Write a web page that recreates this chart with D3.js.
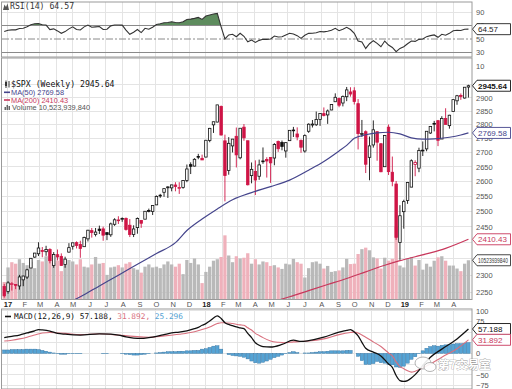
<!DOCTYPE html>
<html>
<head>
<meta charset="utf-8">
<title>$SPX Weekly with RSI and MACD</title>
<script src="https://d3js.org/d3.v7.min.js"></script>
<style>
    body { margin: 0; background: white; }
    svg { display: block; font-family: Arial, "Liberation Sans", sans-serif; }
    .mono { font-family: "DejaVu Sans Mono", "Liberation Mono", monospace; }
    .grid line { stroke: #e4e4e4; stroke-width: 1; shape-rendering: crispEdges; }
    .axis text { font-size: 7.5px; fill: #555; }
</style>
</head>
<body>
<div id="chart"></div>

<script>

// weekly bars, first week starts Mon Dec 26 2016, last week starts Mon Apr 29 2019
var firstMonday = new Date(Date.UTC(2016, 11, 26));
var lastMonday = new Date(Date.UTC(2019, 3, 29));
var priorClose = 2263.79;   // close of the week before the first bar

var open = [2266.2, 2251.6, 2273.6, 2272.1, 2267.8, 2286.0, 2294.3, 2321.7, 2354.9, 2365.2, 2375.2, 2371.6, 2378.2, 2329.1,
    2362.3, 2357.2, 2332.6, 2370.3, 2388.5, 2399.9, 2394.0, 2387.2, 2411.7, 2437.8, 2425.9, 2442.6, 2443.3, 2431.4,
    2424.5, 2458.0, 2472.0, 2475.9, 2477.1, 2455.0, 2425.5, 2447.4, 2470.4, 2474.5, 2502.5, 2499.4, 2521.2, 2551.4,
    2563.0, 2578.1, 2577.8, 2587.5, 2576.5, 2579.5, 2602.7, 2657.2, 2652.2, 2685.9, 2679.1, 2683.7, 2742.7, 2799.0,
    2809.2, 2867.2, 2741.1, 2636.8, 2723.0, 2757.4, 2681.1, 2790.5, 2741.4, 2619.4, 2633.5, 2617.2, 2670.1, 2675.4,
    2682.5, 2680.3, 2738.5, 2735.4, 2705.1, 2741.7, 2780.2, 2765.8, 2742.9, 2705.0, 2775.6, 2798.4, 2799.2, 2819.0,
    2840.3, 2835.5, 2853.9, 2884.7, 2897.0, 2880.0, 2903.8, 2921.8, 2926.3, 2877.5, 2763.8, 2773.9, 2682.7, 2726.4,
    2773.9, 2730.7, 2650.0, 2790.5, 2630.9, 2590.8, 2400.6, 2498.9, 2535.6, 2580.3, 2657.9, 2644.9, 2706.5, 2712.4,
    2769.3, 2804.4, 2814.4, 2747.6, 2822.6, 2796.0, 2848.6, 2888.3, 2908.3, 2898.8, 2940.6];
var high = [2273.8, 2282.1, 2279.3, 2272.1, 2301.0, 2298.3, 2319.2, 2351.3, 2367.8, 2401.0, 2386.1, 2390.0, 2382.4, 2370.4,
    2378.4, 2366.4, 2356.2, 2398.2, 2399.3, 2403.9, 2405.8, 2418.7, 2440.2, 2446.2, 2446.2, 2453.8, 2450.4, 2432.0,
    2463.5, 2477.6, 2484.0, 2480.4, 2480.0, 2474.9, 2454.8, 2480.0, 2472.0, 2500.2, 2508.9, 2519.4, 2552.5, 2557.7,
    2575.4, 2583.0, 2588.4, 2597.0, 2597.0, 2604.2, 2657.7, 2665.2, 2679.6, 2695.0, 2692.1, 2743.5, 2787.9, 2810.3,
    2872.9, 2870.6, 2763.4, 2754.4, 2747.8, 2789.2, 2786.6, 2801.9, 2741.4, 2664.7, 2672.1, 2674.7, 2717.5, 2682.9,
    2682.5, 2732.9, 2742.2, 2742.2, 2736.9, 2779.9, 2791.5, 2789.8, 2746.0, 2764.4, 2804.5, 2816.8, 2848.0, 2840.4,
    2863.4, 2855.6, 2876.2, 2916.5, 2900.2, 2908.3, 2940.9, 2939.9, 2939.9, 2894.8, 2816.9, 2778.9, 2756.6, 2815.2,
    2776.0, 2733.2, 2760.9, 2800.2, 2685.4, 2601.1, 2520.3, 2538.1, 2597.8, 2675.5, 2672.4, 2716.7, 2739.0, 2775.7,
    2794.2, 2813.5, 2816.9, 2830.7, 2860.3, 2836.0, 2893.4, 2910.5, 2916.1, 2939.9, 2949.5];
var low = [2233.6, 2245.1, 2254.3, 2258.4, 2257.0, 2267.2, 2288.5, 2321.4, 2352.9, 2358.2, 2354.5, 2358.9, 2335.8, 2322.3,
    2344.7, 2328.9, 2322.3, 2369.0, 2378.0, 2381.7, 2352.7, 2386.8, 2403.6, 2415.7, 2419.4, 2427.0, 2405.7, 2407.7,
    2418.0, 2453.0, 2459.0, 2466.0, 2437.8, 2417.4, 2417.4, 2428.0, 2446.6, 2474.5, 2496.7, 2488.0, 2520.4, 2544.4,
    2547.9, 2544.0, 2566.2, 2566.3, 2557.5, 2575.0, 2597.0, 2624.8, 2651.0, 2676.0, 2673.6, 2682.4, 2736.1, 2769.6,
    2808.1, 2760.0, 2532.7, 2622.5, 2699.8, 2647.5, 2675.8, 2741.4, 2585.9, 2593.1, 2553.8, 2605.0, 2660.0, 2612.7,
    2594.6, 2655.0, 2701.9, 2707.4, 2681.5, 2741.0, 2755.0, 2743.0, 2698.7, 2699.0, 2770.0, 2789.2, 2795.0, 2795.1,
    2830.0, 2802.5, 2853.0, 2884.0, 2864.1, 2867.3, 2886.9, 2904.0, 2874.3, 2710.5, 2755.0, 2628.2, 2603.5, 2717.0,
    2670.8, 2631.1, 2650.0, 2621.5, 2583.2, 2408.6, 2346.6, 2444.0, 2524.6, 2580.3, 2617.3, 2631.1, 2687.3, 2704.1,
    2766.1, 2775.1, 2722.3, 2747.6, 2800.7, 2785.0, 2848.6, 2873.3, 2891.9, 2896.5, 2900.5];
var close = [2238.8, 2277.0, 2274.6, 2271.3, 2294.7, 2297.4, 2316.1, 2351.2, 2367.3, 2383.1, 2372.6, 2378.3, 2344.0, 2362.7,
    2355.5, 2329.0, 2348.7, 2384.2, 2399.3, 2390.9, 2381.7, 2415.8, 2439.1, 2431.8, 2433.2, 2438.3, 2423.4, 2425.2,
    2459.3, 2472.5, 2472.1, 2476.8, 2441.3, 2425.6, 2443.1, 2476.6, 2461.4, 2500.2, 2502.2, 2519.4, 2549.3, 2553.2,
    2575.2, 2581.1, 2587.8, 2582.3, 2578.9, 2602.4, 2642.2, 2651.5, 2675.8, 2683.3, 2673.6, 2743.2, 2786.2, 2810.3,
    2872.9, 2762.1, 2619.6, 2732.2, 2747.3, 2691.3, 2786.6, 2752.0, 2588.3, 2640.9, 2604.5, 2656.3, 2670.1, 2669.9,
    2663.4, 2727.7, 2713.0, 2721.3, 2734.6, 2779.0, 2779.7, 2754.9, 2718.4, 2759.8, 2801.3, 2801.8, 2818.8, 2840.4,
    2833.3, 2850.1, 2874.7, 2901.5, 2871.7, 2905.0, 2929.7, 2914.0, 2885.6, 2767.1, 2767.8, 2658.7, 2723.1, 2781.0,
    2736.3, 2632.6, 2760.2, 2633.1, 2600.0, 2416.6, 2485.7, 2531.9, 2596.3, 2670.7, 2664.8, 2706.5, 2707.9, 2775.6,
    2792.7, 2803.7, 2743.1, 2822.5, 2800.7, 2834.4, 2892.7, 2907.4, 2905.0, 2939.9, 2945.64];

// weekly volume, billions of shares
var volume = [4.7, 8.6, 10.0, 9.6, 10.8, 9.8, 9.2, 10.1, 8.4, 10.6, 10.2, 11.6, 10.8, 9.8,
    10.4, 7.6, 9.4, 10.6, 10.2, 9.4, 10.8, 8.8, 8.6, 9.4, 11.4, 9.6, 9.8, 6.6,
    8.6, 8.8, 9.2, 8.6, 9.6, 10.0, 8.4, 8.0, 7.2, 8.8, 9.4, 8.6, 8.8, 8.4,
    9.4, 10.2, 9.4, 8.8, 9.6, 6.8, 10.6, 9.8, 11.0, 9.4, 4.4, 7.4, 8.8, 10.4,
    10.8, 11.4, 17.2, 11.8, 10.0, 11.6, 11.0, 11.2, 12.4, 9.6, 10.8, 9.4, 10.2, 10.0,
    9.0, 9.2, 8.6, 8.2, 9.6, 9.4, 10.9, 10.0, 9.6, 5.9, 8.4, 10.0, 10.2, 9.6,
    8.3, 9.0, 7.4, 7.6, 7.8, 8.6, 10.9, 9.5, 9.6, 12.2, 13.5, 13.9, 13.2, 11.3,
    11.0, 8.3, 11.2, 10.4, 10.9, 19.5, 9.1, 8.6, 10.9, 11.4, 9.1, 10.6, 8.0, 9.6,
    8.8, 10.4, 11.3, 11.6, 10.4, 9.1, 9.1, 8.3, 7.6, 9.6, 10.52];

// RSI(14), one value per week
var rsi = [61, 63, 63.5, 63.5, 65.5, 66, 68, 71, 72.5, 73, 71, 70.7, 64, 65,
    62, 58.4, 61, 65, 68, 64, 63.3, 68, 70.7, 67.5, 68, 68.5, 64, 64.5,
    69.5, 70.7, 70.7, 70.5, 63.3, 57, 60, 64, 59.5, 65.8, 64.4, 67.5, 71.5, 72.5,
    74, 74.5, 75.6, 74.5, 74, 75.6, 79, 79.5, 80.6, 82, 79, 84, 85.5, 87,
    88, 68, 50, 56, 57, 53.4, 58.4, 54, 46, 48.5, 45, 48, 49.5, 49.5,
    50, 54.4, 53, 53.4, 56, 58.4, 57.5, 55, 51, 55.5, 58.4, 58.5, 59.3, 61,
    60.5, 61.5, 63, 65.8, 62.3, 64.5, 67.3, 64, 58.4, 47, 45.5, 36, 43, 47.5,
    43.6, 38.6, 47, 41, 37.5, 31.2, 36, 38.6, 43, 47, 46.5, 49.5, 50, 53.5,
    55, 56, 52.5, 57, 55.5, 58.4, 62.3, 63, 62.5, 64.4, 64.57];

// MACD histogram, one value per week
var macdHist = [8, 8, 9, 9, 9, 9, 10, 10, 10, 9, 7, 5, 3, 1,
    -1, -2, -2, -1, -1, -1, -1, 0, 0, 0, 0, 0, -1, -1,
    0, 0, 0, -1, -2, -3, -4, -4, -3, -2, -1, 0, 1, 2,
    3, 4, 4, 4, 5, 5, 6, 6, 7, 7, 10, 11, 14, 17,
    18, 10, 0, -3, -5, -6, -7, -9, -13, -18, -22, -23, -21, -18,
    -14, -10, -7, -4, -1, 2, 4, 2, 0, 1, 1, 2, 3, 4,
    4, 5, 6, 6, 6, 6, 7, 7, 0, -7, -17, -26, -26, -24,
    -19, -22, -23, -26, -27, -32, -33, -30, -23, -14, -8, -1, 6, 12,
    16, 18, 17, 19, 20, 20, 22, 23, 23, 24, 25.296];

// smooth lines read at selected weeks (week index from the first bar)
var ma50Week = [17, 20, 25, 30, 35, 40, 45, 48, 52, 56, 60, 65, 70, 75, 80, 84, 88, 90, 92, 95, 98, 101, 104, 107, 110, 113, 117, 120, 122];
var ma50Value = [2220, 2236, 2268, 2300, 2333, 2366, 2400, 2438, 2475, 2508, 2538, 2562, 2582, 2604, 2638, 2668, 2705, 2725, 2750, 2763, 2770, 2772, 2766, 2752, 2747, 2748, 2754, 2762, 2769.58];

var ma200Week = [68, 75, 80, 85, 90, 95, 100, 104, 108, 112, 116, 122];
var ma200Value = [2214, 2236, 2254, 2272, 2290, 2310, 2330, 2344, 2356, 2368, 2382, 2410.43];

var macdWeek = [0, 2, 4, 6, 8, 9, 10, 12, 14, 16, 20, 25, 28, 30, 32, 34, 36, 38, 40, 42,
    44, 46, 48, 50, 51, 52, 53, 54, 55, 56, 57, 58, 59, 60, 61, 62, 63, 64, 65, 66,
    67, 68, 70, 73, 76, 78, 80, 84, 88, 90, 91, 92, 93, 94, 95, 97, 99, 101, 102, 103,
    104, 105, 106, 107, 108, 109, 110, 112, 115, 119, 122];
var macdValue = [37, 40, 43, 48, 53, 56, 55, 52, 47, 45, 43, 46, 45, 43, 39, 36, 35, 37, 40, 44,
    48, 50, 53, 58, 61, 66, 70, 76, 83, 88, 82, 72, 68, 65, 62, 60, 58, 47, 37, 25,
    19, 16, 15, 21, 31, 28, 30, 38, 50, 54, 56, 50, 41, 26, 12, 3, -6, -25, -33, -52,
    -64, -66, -64, -58, -50, -40, -28, -9, 10, 34, 57.188];

var signalWeek = [0, 2, 4, 6, 8, 10, 12, 14, 16, 20, 25, 30, 34, 38, 42, 46, 50, 52, 54, 56,
    57, 58, 60, 62, 63, 64, 65, 66, 67, 68, 70, 72, 74, 76, 78, 80, 84, 88, 91, 92,
    93, 94, 95, 97, 99, 101, 102, 103, 104, 105, 106, 107, 108, 110, 112, 115, 119, 122];
var signalValue = [29, 31, 34, 38, 43, 48, 49, 48, 47, 44, 46, 43, 40, 38, 41, 45, 51, 56, 62, 70,
    72, 72, 70, 67, 66, 60, 55, 47, 42, 37, 29, 26, 25, 27, 28, 29, 34, 44, 49, 50,
    48, 43, 38, 27, 16, 1, -6, -20, -31, -36, -41, -44, -42, -34, -25, -9, 11, 31.892];

// grid levels, and the axis labels that are not hidden behind the value tags
var priceTicks = [2250, 2300, 2350, 2400, 2450, 2500, 2550, 2600, 2650, 2700, 2750, 2800, 2850, 2900, 2950];
var priceLabels = [2250, 2300, 2450, 2500, 2550, 2600, 2650, 2700, 2750, 2800, 2850, 2900];
var rsiLabels = [10, 30, 50, 70, 90];
var macdTicks = [-75, -50, -25, 0, 25, 50, 75, 100];
var macdLabels = [-75, -50, 0, 75, 100];
var monthLetters = ["J", "F", "M", "A", "M", "J", "J", "A", "S", "O", "N", "D"];

// colors
var red = "#cf1546";
var maBlue = "#45458c";
var maRed = "#c8385c";
var histBlue = "#55a3d4";

// ---- layout ----
var width = 512, height = 389;
var left = 2, right = 472;
var rsiBox = {top: 2, bottom: 57};
var priceBox = {top: 58, bottom: 299.5};
var macdBox = {top: 309, bottom: 389};

var weeks = d3.utcMonday.range(firstMonday, d3.utcDay.offset(lastMonday, 1));
var months = d3.utcMonth.range(new Date(Date.UTC(2017, 0, 1)), new Date(Date.UTC(2019, 4, 1)));

var x = d3.scaleUtc()
    .domain([new Date(Date.UTC(2017, 0, 1)), new Date(Date.UTC(2019, 0, 1))])
    .range([7.5, 404.3]);
var yPrice = d3.scaleLog().domain([2250, 2900]).range([292.0, 97.7]);
var yVol = d3.scaleLinear().domain([0, 20]).range([299.5, 224.9]);
var yRsi = d3.scaleLinear().domain([10, 90]).range([66, 12]);
var yMacd = d3.scaleLinear().domain([-75, 100]).range([385.3, 310.8]);

var wx = function(i) { return x(weeks[i]); };

var svg = d3.select("#chart").append("svg")
    .attr("width", width)
    .attr("height", height);

var defs = svg.append("defs");
[["clipRsi", rsiBox], ["clipPrice", priceBox], ["clipMacd", macdBox]].forEach(function(c) {
    defs.append("clipPath").attr("id", c[0]).append("rect")
        .attr("x", left).attr("y", c[1].top)
        .attr("width", right - left).attr("height", c[1].bottom - c[1].top);
});
defs.append("clipPath").attr("id", "clipRsiHigh").append("rect")
    .attr("x", left).attr("y", rsiBox.top)
    .attr("width", right - left).attr("height", yRsi(70) - rsiBox.top);

// ---- grid lines ----
var grid = svg.append("g").attr("class", "grid");
[rsiBox, priceBox, macdBox].forEach(function(box) {
    grid.selectAll(null).data(months).enter().append("line")
        .attr("x1", function(d) { return x(d); }).attr("x2", function(d) { return x(d); })
        .attr("y1", box.top).attr("y2", box.bottom);
});
grid.selectAll(null).data(priceTicks).enter().append("line")
    .attr("x1", left).attr("x2", right)
    .attr("y1", function(d) { return yPrice(d); }).attr("y2", function(d) { return yPrice(d); });
grid.append("line").attr("x1", left).attr("x2", right).attr("y1", yRsi(90)).attr("y2", yRsi(90));
grid.selectAll(null).data(macdTicks).enter().append("line")
    .attr("x1", left).attr("x2", right)
    .attr("y1", function(d) { return yMacd(d); }).attr("y2", function(d) { return yMacd(d); });

// ---- RSI panel ----
var rsiG = svg.append("g").attr("clip-path", "url(#clipRsi)");
rsiG.append("path").datum(rsi)
    .attr("clip-path", "url(#clipRsiHigh)")
    .attr("d", d3.area().x(function(d, i) { return wx(i); }).y0(yRsi(70)).y1(function(d) { return yRsi(d); }))
    .attr("fill", "#5e8c5e");
[70, 30].forEach(function(v) {
    rsiG.append("line").attr("x1", left).attr("x2", right).attr("y1", yRsi(v)).attr("y2", yRsi(v))
        .attr("stroke", "#8a8a8a").attr("stroke-width", 1);
});
rsiG.append("line").attr("x1", left).attr("x2", right).attr("y1", yRsi(50)).attr("y2", yRsi(50))
    .attr("stroke", "#8a8a8a").attr("stroke-dasharray", "7,2,2,2");
rsiG.append("path").datum(rsi)
    .attr("d", d3.line().x(function(d, i) { return wx(i); }).y(function(d) { return yRsi(d); }))
    .attr("fill", "none").attr("stroke", "#333").attr("stroke-width", 1.1);

// ---- price panel ----
var priceG = svg.append("g").attr("clip-path", "url(#clipPrice)");
var isDown = function(i) { return close[i] < (i === 0 ? priorClose : close[i - 1]); };

// volume bars behind the price
priceG.selectAll(".vol").data(volume).enter().append("rect")
    .attr("class", "vol")
    .attr("x", function(d, i) { return wx(i) - 1.65; })
    .attr("width", 3.3)
    .attr("y", function(d) { return yVol(d); })
    .attr("height", function(d) { return yVol(0) - yVol(d); })
    .attr("fill", function(d, i) { return isDown(i) ? "#efb1bb" : "#b9b9b9"; });

// candles
var candles = priceG.selectAll(".candle").data(close).enter().append("g").attr("class", "candle");
candles.append("line")
    .attr("x1", function(d, i) { return wx(i); }).attr("x2", function(d, i) { return wx(i); })
    .attr("y1", function(d, i) { return yPrice(high[i]); })
    .attr("y2", function(d, i) { return yPrice(low[i]); })
    .attr("stroke", function(d, i) { return isDown(i) ? red : "#111"; })
    .attr("stroke-width", 0.9);
candles.append("rect")
    .attr("x", function(d, i) { return wx(i) - 1.25; })
    .attr("width", 2.5)
    .attr("y", function(d, i) { return yPrice(Math.max(open[i], close[i])); })
    .attr("height", function(d, i) { return Math.max(0.8, yPrice(Math.min(open[i], close[i])) - yPrice(Math.max(open[i], close[i]))); })
    .attr("fill", function(d, i) { return close[i] < open[i] ? (isDown(i) ? red : "#111") : "white"; })
    .attr("stroke", function(d, i) { return isDown(i) ? red : "#111"; })
    .attr("stroke-width", 0.8);

// moving averages
var sparseLine = function(weekIdx, yScale) {
    return d3.line().curve(d3.curveMonotoneX)
        .x(function(d, k) { return wx(weekIdx[k]); })
        .y(function(d) { return yScale(d); });
};
priceG.append("path").datum(ma50Value)
    .attr("d", sparseLine(ma50Week, yPrice))
    .attr("fill", "none").attr("stroke", maBlue).attr("stroke-width", 1.2);
priceG.append("path").datum(ma200Value)
    .attr("d", sparseLine(ma200Week, yPrice))
    .attr("fill", "none").attr("stroke", maRed).attr("stroke-width", 1.2);

// ---- MACD panel ----
var macdG = svg.append("g").attr("clip-path", "url(#clipMacd)");
macdG.selectAll(".hist").data(macdHist).enter().append("rect")
    .attr("class", "hist")
    .attr("x", function(d, i) { return wx(i) - 1.7; })
    .attr("width", 3.4)
    .attr("y", function(d) { return Math.min(yMacd(d), yMacd(0)); })
    .attr("height", function(d) { return Math.abs(yMacd(d) - yMacd(0)); })
    .attr("fill", histBlue).attr("stroke", "#2f6f9f").attr("stroke-width", 0.4);
macdG.append("path").datum(signalValue)
    .attr("d", sparseLine(signalWeek, yMacd))
    .attr("fill", "none").attr("stroke", "#d9707e").attr("stroke-width", 1.1);
macdG.append("path").datum(macdValue)
    .attr("d", sparseLine(macdWeek, yMacd))
    .attr("fill", "none").attr("stroke", "#111").attr("stroke-width", 1.3);

// ---- panel borders ----
[rsiBox, priceBox, macdBox].forEach(function(box) {
    svg.append("rect")
        .attr("x", left - 0.5).attr("y", box.top)
        .attr("width", right - left + 0.5).attr("height", box.bottom - box.top)
        .attr("fill", "none").attr("stroke", "#9a9a9a").attr("stroke-width", 1);
});

// ---- axes ----
var xAxis = svg.append("g").attr("class", "axis")
    .attr("transform", "translate(0," + priceBox.bottom + ")")
    .call(d3.axisBottom(x).tickValues(months).tickSize(0).tickPadding(2)
        .tickFormat(function(d) {
            return d.getUTCMonth() === 0 ? String(d.getUTCFullYear()).slice(2) : monthLetters[d.getUTCMonth()];
        }));
xAxis.select(".domain").remove();
xAxis.selectAll("text")
    .style("font-weight", function(d) { return d.getUTCMonth() === 0 ? "bold" : "normal"; })
    .style("fill", function(d) { return d.getUTCMonth() === 0 ? "#222" : "#555"; });

var rightAxis = function(scale, ticks) {
    var g = svg.append("g").attr("class", "axis")
        .attr("transform", "translate(" + right + ",0)")
        .call(d3.axisRight(scale).tickValues(ticks).tickSize(0).tickPadding(4).tickFormat(d3.format("d")));
    g.select(".domain").remove();
};
rightAxis(yRsi, rsiLabels);
rightAxis(yPrice, priceLabels);
rightAxis(yMacd, macdLabels);

// ---- legends ----
// RSI
svg.append("path").attr("d", "M3,10 L4.5,4.5 L6,7 L7.5,3.5 L9,10 Z").attr("fill", "#555");
svg.append("text").attr("class", "mono").attr("x", 10).attr("y", 9)
    .style("font-size", "8.2px").attr("fill", "#333").text("RSI(14) 64.57");

// price
svg.append("line").attr("x1", 6).attr("x2", 6).attr("y1", 80.5).attr("y2", 88).attr("stroke", "#333");
svg.append("rect").attr("x", 5).attr("y", 82).attr("width", 2).attr("height", 4).attr("fill", "#333");
svg.append("line").attr("x1", 9).attr("x2", 9).attr("y1", 81).attr("y2", 87.5).attr("stroke", "#333");
svg.append("text").attr("class", "mono").attr("x", 11).attr("y", 87)
    .style("font-size", "8.2px").attr("fill", "#111").text("$SPX (Weekly) 2945.64");

svg.append("line").attr("x1", 4).attr("x2", 10).attr("y1", 92.3).attr("y2", 92.3)
    .attr("stroke", maBlue).attr("stroke-width", 1.6);
svg.append("text").attr("x", 11).attr("y", 95).style("font-size", "7.4px")
    .attr("fill", maBlue).text("MA(50) 2769.58");

svg.append("line").attr("x1", 4).attr("x2", 10).attr("y1", 100).attr("y2", 100)
    .attr("stroke", maRed).attr("stroke-width", 1.6);
svg.append("text").attr("x", 11).attr("y", 102.7).style("font-size", "7.4px")
    .attr("fill", maRed).text("MA(200) 2410.43");

[[4.5, 3], [6.5, 5], [8.5, 4]].forEach(function(b) {
    svg.append("rect").attr("x", b[0]).attr("y", 110 - b[1]).attr("width", 1.5).attr("height", b[1]).attr("fill", "#666");
});
svg.append("text").attr("x", 12).attr("y", 110.4).style("font-size", "7.4px")
    .attr("fill", "#555").text("Volume 10,523,939,840");

// MACD
svg.append("line").attr("x1", 5).attr("x2", 11).attr("y1", 316.5).attr("y2", 316.5)
    .attr("stroke", "#111").attr("stroke-width", 1.6);
var macdTitle = svg.append("text").attr("class", "mono").attr("x", 14).attr("y", 319.3)
    .style("font-size", "7.8px");
macdTitle.append("tspan").attr("fill", "#111").text("MACD(12,26,9) 57.188, ");
macdTitle.append("tspan").attr("fill", "#d9707e").text("31.892, ");
macdTitle.append("tspan").attr("fill", histBlue).text("25.296");

// ---- value tags on the right axis ----
function tag(y, label, color, bold, fit) {
    var g = svg.append("g").attr("transform", "translate(" + right + "," + y + ")");
    g.append("path")
        .attr("d", "M0.5,0 L5,-5.5 L38.5,-5.5 L38.5,5.5 L5,5.5 Z")
        .attr("fill", "white").attr("stroke", color).attr("stroke-width", 0.9);
    var t = g.append("text").attr("x", 6).attr("y", 2.8)
        .style("font-size", fit ? "7px" : "8px").style("font-weight", bold ? "bold" : "normal")
        .attr("fill", color).text(label);
    if (fit) t.attr("textLength", fit).attr("lengthAdjust", "spacingAndGlyphs");
}
tag(yRsi(64.57), "64.57", "#222", false);
tag(yPrice(2945.64), "2945.64", "#111", true);
tag(yPrice(2769.58), "2769.58", maBlue, false);
tag(yPrice(2410.43), "2410.43", maRed, false);
tag(yVol(10.52), "10523939840", "#333", false, 30);
tag(yMacd(57.188), "57.188", "#111", false);
tag(yMacd(31.892), "31.892", maRed, false);

// ---- watermark ----
var wm = svg.append("g").attr("opacity", 0.9);
wm.append("ellipse").attr("cx", 423).attr("cy", 363).attr("rx", 8).attr("ry", 6)
    .attr("fill", "white").attr("stroke", "#999").attr("stroke-width", 0.8);
wm.append("ellipse").attr("cx", 430).attr("cy", 367).attr("rx", 6).attr("ry", 4.5)
    .attr("fill", "white").attr("stroke", "#999").attr("stroke-width", 0.8);
wm.append("text").attr("x", 438).attr("y", 369)
    .style("font-family", "'Noto Sans CJK SC', sans-serif").style("font-size", "11.5px")
    .style("font-weight", "bold")
    .attr("fill", "white").attr("stroke", "#8f8f8f").attr("stroke-width", 0.7)
    .style("paint-order", "stroke")
    .text("第7交易室");

</script>
</body>
</html>
